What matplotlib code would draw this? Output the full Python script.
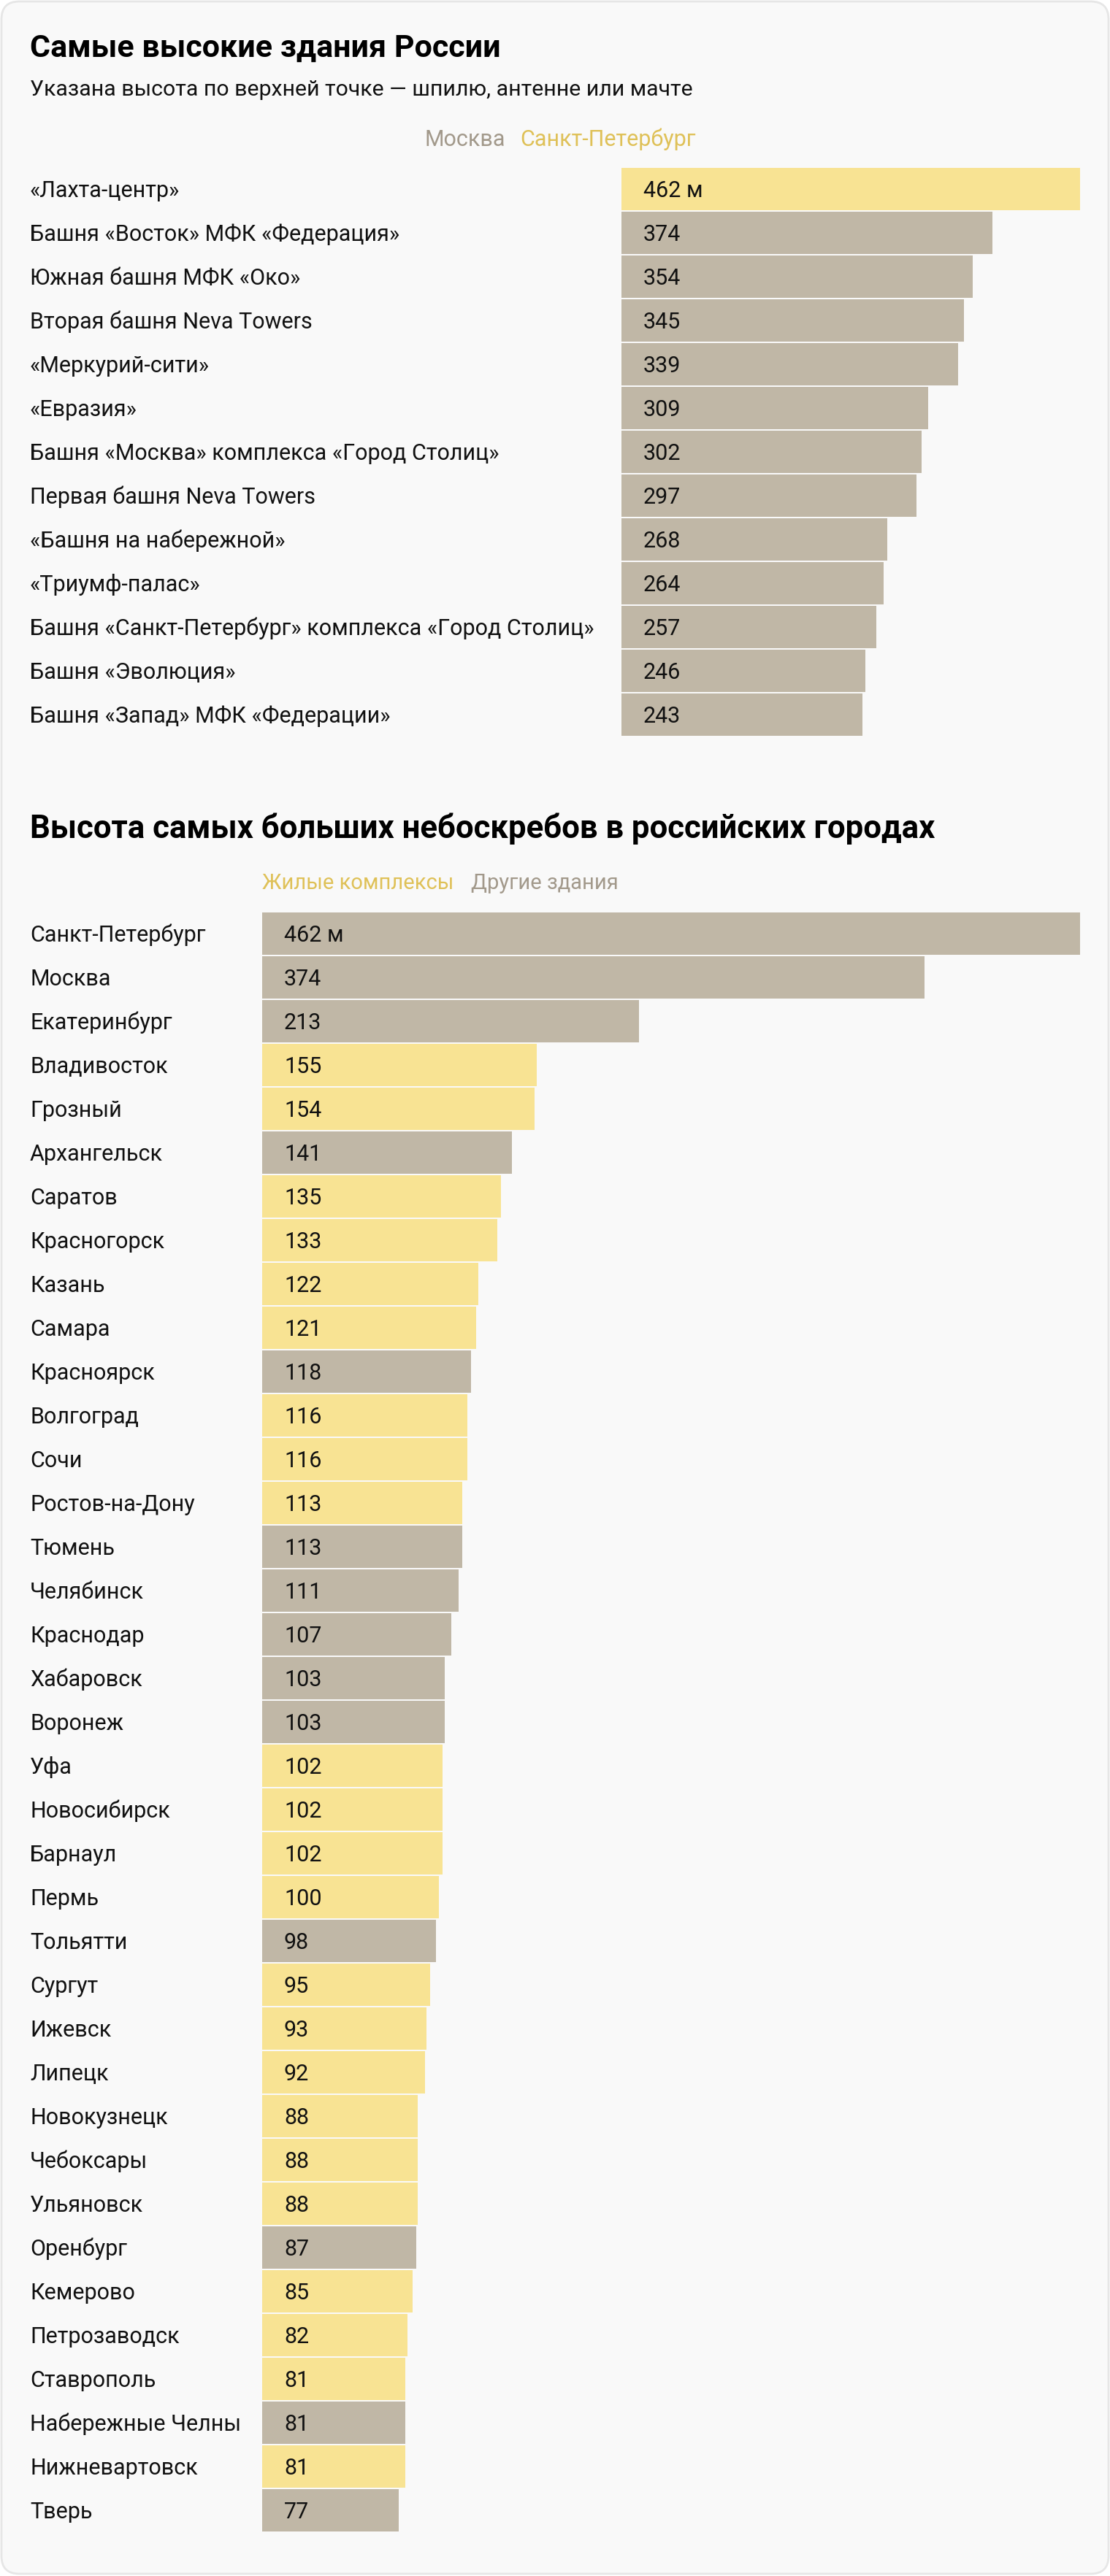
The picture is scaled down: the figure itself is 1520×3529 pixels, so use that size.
import matplotlib
matplotlib.use("Agg")
import matplotlib.pyplot as plt
from matplotlib.patches import FancyBboxPatch
from matplotlib.transforms import blended_transform_factory

plt.rcParams['font.family'] = ['Roboto', 'DejaVu Sans']

# ---------------- data ----------------
title1 = "Самые высокие здания России"
subtitle1 = "Указана высота по верхней точке — шпилю, антенне или мачте"
legend1 = ["Москва", "Санкт-Петербург"]
buildings = [
    "«Лахта-центр»",
    "Башня «Восток» МФК «Федерация»",
    "Южная башня МФК «Око»",
    "Вторая башня Neva Towers",
    "«Меркурий-сити»",
    "«Евразия»",
    "Башня «Москва» комплекса «Город Столиц»",
    "Первая башня Neva Towers",
    "«Башня на набережной»",
    "«Триумф-палас»",
    "Башня «Санкт-Петербург» комплекса «Город Столиц»",
    "Башня «Эволюция»",
    "Башня «Запад» МФК «Федерации»",
]
building_heights = [462, 374, 354, 345, 339, 309, 302, 297, 268, 264, 257, 246, 243]
building_city = ["spb"] + ["msk"] * 12

title2 = "Высота самых больших небоскребов в российских городах"
legend2 = ["Жилые комплексы", "Другие здания"]
cities = [
    "Санкт-Петербург", "Москва", "Екатеринбург", "Владивосток", "Грозный",
    "Архангельск", "Саратов", "Красногорск", "Казань", "Самара",
    "Красноярск", "Волгоград", "Сочи", "Ростов-на-Дону", "Тюмень",
    "Челябинск", "Краснодар", "Хабаровск", "Воронеж", "Уфа",
    "Новосибирск", "Барнаул", "Пермь", "Тольятти", "Сургут",
    "Ижевск", "Липецк", "Новокузнецк", "Чебоксары", "Ульяновск",
    "Оренбург", "Кемерово", "Петрозаводск", "Ставрополь", "Набережные Челны",
    "Нижневартовск", "Тверь",
]
city_heights = [462, 374, 213, 155, 154, 141, 135, 133, 122, 121,
                118, 116, 116, 113, 113, 111, 107, 103, 103, 102,
                102, 102, 100, 98, 95, 93, 92, 88, 88, 88,
                87, 85, 82, 81, 81, 81, 77]
city_type = ["other", "other", "other", "res", "res",
             "other", "res", "res", "res", "res",
             "other", "res", "res", "res", "other",
             "other", "other", "other", "other", "res",
             "res", "res", "res", "other", "res",
             "res", "res", "res", "res", "res",
             "other", "res", "res", "res", "other",
             "res", "other"]

# ---------------- style ----------------
W, H = 1520, 3530
DPI = 100
YELLOW = "#f8e393"
GRAY = "#c0b7a6"
YELLOW_TXT = "#dfc158"
GRAY_TXT = "#a2998b"
CARD = "#f9f9f9"
LABEL_SIZE = 22
TITLE_SIZE = 31
TITLE2_SIZE = 31.5
SUB_SIZE = 21.8
LEG_SIZE = 22
LEG2_SIZE = 21

fig = plt.figure(figsize=(W / DPI, H / DPI), dpi=DPI, facecolor="white")


def fx(x):
    return x / W


def fy(y):
    return 1 - y / H


card = FancyBboxPatch((fx(2), fy(3527)), fx(1516), 3524 / H,
                      boxstyle="round,pad=0,rounding_size=0.016",
                      transform=fig.transFigure, facecolor=CARD,
                      edgecolor="#e6e6e6", linewidth=2, mutation_aspect=W / H,
                      zorder=-10)
fig.patches.append(card)


def make_axes(left, right, top, n):
    bottom = top + n * 60
    ax = fig.add_axes([fx(left), fy(bottom), fx(right - left), (bottom - top) / H])
    ax.set_xlim(0, 462)
    ax.set_ylim(n - 0.5, -0.5)
    ax.axis("off")
    ax.patch.set_alpha(0)
    ax.set_zorder(1)
    return ax


def draw_bars(ax, names, vals, colors, bar_left_px):
    ys = list(range(len(vals)))
    ax.barh(ys, vals, height=58 / 60, color=colors, linewidth=0)
    tr = blended_transform_factory(fig.transFigure, ax.transData)
    for i, (n, v) in enumerate(zip(names, vals)):
        t = fig.text(fx(41), i + 10 / 60, n, transform=tr, fontsize=LABEL_SIZE,
                     color="#111111", va="baseline", ha="left")
        t.set_zorder(5)
        lab = f"{v} м" if i == 0 else f"{v}"
        t = fig.text(fx(bar_left_px + 30), i + 10 / 60, lab, transform=tr,
                     fontsize=LABEL_SIZE, color="#111111", va="baseline", ha="left")
        t.set_zorder(5)


# ---------------- chart 1 ----------------
fig.text(fx(41), fy(78), title1, fontsize=TITLE_SIZE, fontweight="bold",
         color="#000000", va="baseline")
fig.text(fx(41), fy(131), subtitle1, fontsize=SUB_SIZE, color="#111111",
         va="baseline")
fig.text(fx(582), fy(200), legend1[0], fontsize=LEG_SIZE, color=GRAY_TXT,
         va="baseline")
fig.text(fx(712), fy(200), legend1[1], fontsize=LEG_SIZE, color=YELLOW_TXT,
         va="baseline")

ax1 = make_axes(851, 1479, 230, len(buildings))
c1 = [YELLOW if c == "spb" else GRAY for c in building_city]
draw_bars(ax1, buildings, building_heights, c1, 851)

# ---------------- chart 2 ----------------
fig.text(fx(41), fy(1148), title2, fontsize=TITLE2_SIZE, fontweight="bold",
         color="#000000", va="baseline")
fig.text(fx(359), fy(1218), legend2[0], fontsize=LEG2_SIZE, color=YELLOW_TXT,
         va="baseline")
fig.text(fx(645), fy(1218), legend2[1], fontsize=LEG2_SIZE, color=GRAY_TXT,
         va="baseline")

ax2 = make_axes(359, 1479, 1250, len(cities))
c2 = [YELLOW if t == "res" else GRAY for t in city_type]
draw_bars(ax2, cities, city_heights, c2, 359)

fig.savefig("out.png", dpi=DPI, facecolor="white")
